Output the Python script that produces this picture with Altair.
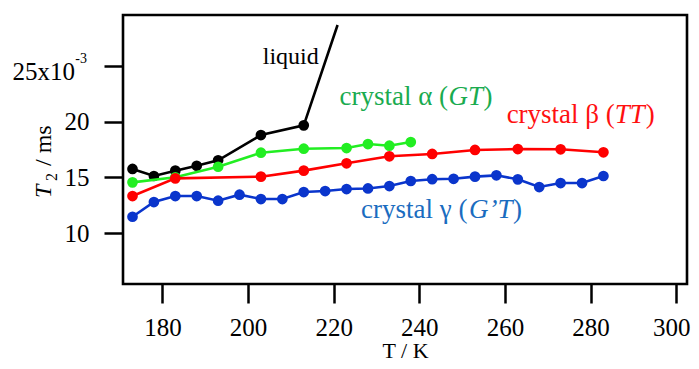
import altair as alt
import pandas as pd

FONT = "Liberation Serif"

# ---- data (T in K, T2 in ms; converted to seconds below) ----
liquid_T = [173, 178, 183, 188, 193, 203, 213, 220.9]
liquid_v = [15.75, 15.12, 15.60, 16.04, 16.53, 18.80, 19.67, 28.68]
liquid_marker = [1, 1, 1, 1, 1, 1, 1, 0]

alpha_T = [173, 183, 193, 203, 213, 223, 228, 233, 238]
alpha_v = [14.55, 15.00, 15.95, 17.21, 17.57, 17.63, 17.99, 17.84, 18.17]

beta_T = [173, 183, 203, 213, 223, 233, 243, 253, 263, 273, 283]
beta_v = [13.32, 14.91, 15.06, 15.60, 16.26, 16.89, 17.10, 17.46, 17.54, 17.52, 17.25]

gamma_T = [173, 178, 183, 188, 193, 198, 203, 208, 213, 218, 223, 228, 233,
           238, 243, 248, 253, 258, 263, 268, 273, 278, 283]
gamma_v = [11.46, 12.78, 13.32, 13.32, 12.90, 13.44, 13.05, 13.05, 13.68, 13.77,
           13.95, 14.00, 14.22, 14.67, 14.83, 14.87, 15.06, 15.18, 14.82, 14.13,
           14.49, 14.49, 15.12]

x_ticks = [180, 200, 220, 240, 260, 280, 300]
y_ticks = [0.010, 0.015, 0.020, 0.025]
x_domain = [170.78, 302.52]
y_domain = [0.00542, 0.02958]

series_names = ["liquid", "alpha", "beta", "gamma"]
line_colors = ["#000000", "#22ee22", "#ff0000", "#0a35cc"]

# label pieces: (series, T, T2 in ms, text, italic, dx, color)
lab_rows = [
    ("liquid", 203.42, 25.22, "liquid", False, 0, "#000000"),
    ("alpha", 221.33, 21.50, "crystal α (", False, 0, "#1aab4f"),
    ("alpha", 221.33, 21.50, "GT", True, 109, "#1aab4f"),
    ("alpha", 221.33, 21.50, ")", False, 144, "#1aab4f"),
    ("beta", 260.39, 19.85, "crystal β (", False, 0, "#ff1010"),
    ("beta", 260.39, 19.85, "TT", True, 108, "#ff1010"),
    ("beta", 260.39, 19.85, ")", False, 139, "#ff1010"),
    ("gamma", 226.39, 11.32, "crystal γ (", False, 0, "#1a6cc0"),
    ("gamma", 226.39, 11.32, "G’T", True, 108, "#1a6cc0"),
    ("gamma", 226.39, 11.32, ")", False, 152, "#1a6cc0"),
]


def series_df(name, T, v, marker=None):
    return pd.DataFrame({
        "T": T,
        "T2": [x / 1000.0 for x in v],
        "series": name,
        "marker": marker if marker is not None else [1] * len(T),
    })


df = pd.concat([
    series_df("liquid", liquid_T, liquid_v, liquid_marker),
    series_df("alpha", alpha_T, alpha_v),
    series_df("beta", beta_T, beta_v),
    series_df("gamma", gamma_T, gamma_v),
], ignore_index=True)

xs = alt.Scale(domain=x_domain, nice=False, zero=False)
ys = alt.Scale(domain=y_domain, nice=False, zero=False)
cs = alt.Scale(domain=series_names, range=line_colors)

x_axis = alt.Axis(values=x_ticks, title="T / K", grid=False, domain=False,
                  tickSize=19, tickWidth=2.5, tickColor="black",
                  labelFont=FONT, labelFontSize=25, labelColor="black",
                  labelPadding=12, labelAngle=0,
                  labelOffset={"condition": {"test": "datum.value >= 300", "value": -5},
                               "value": 0},
                  titleFont=FONT, titleFontSize=22, titleFontWeight="normal",
                  titleColor="black", titlePadding=0)
y_axis = alt.Axis(values=y_ticks, title=None, grid=False, domain=False,
                  tickSize=19, tickWidth=2.5, tickColor="black",
                  labelFont=FONT, labelFontSize=25, labelColor="black",
                  labelPadding=15,
                  labelExpr="datum.value > 0.024 ? '' : format(datum.value*1000, '.0f')")

order = alt.Order("T:Q")

lines = alt.Chart(df).mark_line(strokeWidth=2.6).encode(
    x=alt.X("T:Q", scale=xs, axis=x_axis),
    y=alt.Y("T2:Q", scale=ys, axis=y_axis),
    color=alt.Color("series:N", scale=cs, legend=None),
    detail="series:N",
    order=order,
)

points = alt.Chart(df).transform_filter("datum.marker == 1").mark_circle(
    size=115, opacity=1).encode(
    x=alt.X("T:Q", scale=xs),
    y=alt.Y("T2:Q", scale=ys),
    color=alt.Color("series:N", scale=cs, legend=None),
)

layers = []
for s in series_names:
    layers.append(lines.transform_filter(alt.datum.series == s))
    layers.append(points.transform_filter(alt.datum.series == s))

# annotation labels
for (s, tx, ty, txt, ital, dx, col) in lab_rows:
    d = pd.DataFrame({"T": [tx], "T2": [ty / 1000.0], "label": [txt]})
    layers.append(alt.Chart(d).mark_text(
        font=FONT, fontSize=24 if s == "liquid" else 27,
        fontStyle="italic" if ital else "normal",
        align="left", baseline="alphabetic", dx=dx, color=col).encode(
        x=alt.X("T:Q", scale=xs), y=alt.Y("T2:Q", scale=ys), text="label:N"))

# top y tick label 25x10^-3
d25 = pd.DataFrame({"T2": [0.025]})
layers.append(alt.Chart(d25).mark_text(
    font=FONT, fontSize=25, align="right", baseline="middle", dy=6,
    color="black").encode(x=alt.value(-48), y=alt.Y("T2:Q", scale=ys),
                          text=alt.value("25x10")))
layers.append(alt.Chart(d25).mark_text(
    font=FONT, fontSize=14, align="right", baseline="middle", dy=-7,
    color="black").encode(x=alt.value(-36), y=alt.Y("T2:Q", scale=ys),
                          text=alt.value("-3")))

# y axis title  T_2 / ms  (rotated)
d0 = pd.DataFrame({"a": [0]})
layers.append(alt.Chart(d0).mark_text(
    font=FONT, fontSize=24, fontStyle="italic", angle=270, align="left",
    baseline="alphabetic", color="black").encode(
    x=alt.value(-72.5), y=alt.value(183), text=alt.value("T")))
layers.append(alt.Chart(d0).mark_text(
    font=FONT, fontSize=16, angle=270, align="left",
    baseline="alphabetic", color="black").encode(
    x=alt.value(-66), y=alt.value(166), text=alt.value("2")))
layers.append(alt.Chart(d0).mark_text(
    font=FONT, fontSize=24, angle=270, align="left",
    baseline="alphabetic", color="black").encode(
    x=alt.value(-72.5), y=alt.value(151), text=alt.value("/ ms")))

chart = alt.layer(*layers).properties(
    width=564, height=269,
    autosize=alt.AutoSizeParams(type="none"),
    padding={"left": 115, "top": 7, "right": 4, "bottom": 77},
    background="white",
).configure_view(stroke="black", strokeWidth=2.6)

chart.save("out.html", embed_options={"renderer": "svg", "actions": False})
